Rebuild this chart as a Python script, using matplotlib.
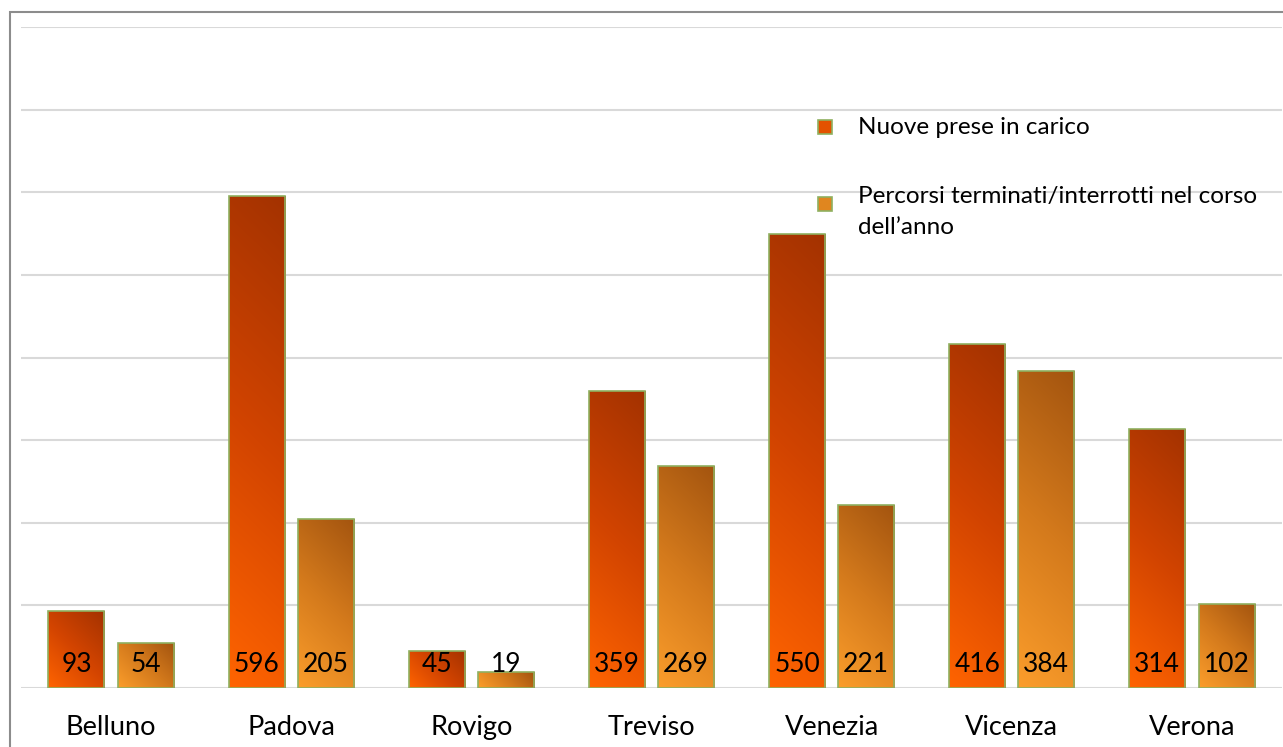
import numpy as np
import matplotlib.pyplot as plt
from matplotlib.colors import LinearSegmentedColormap
from matplotlib.patches import Rectangle

province = ['Belluno', 'Padova', 'Rovigo', 'Treviso', 'Venezia', 'Vicenza', 'Verona']
nuove = [93, 596, 45, 359, 550, 416, 314]
terminati = [54, 205, 19, 269, 221, 384, 102]
serie = ['Nuove prese in carico',
         'Percorsi terminati/interrotti nel corso\ndell\u2019anno']

plt.rcParams['font.family'] = ['Lato', 'DejaVu Sans']

cmap_nuove = LinearSegmentedColormap.from_list('nuove', ['#a33200', '#d24400', '#ff6400'])
cmap_term = LinearSegmentedColormap.from_list('term', ['#a3540f', '#d47a1c', '#fb9d2b'])

fig = plt.figure(figsize=(12.83, 7.47), dpi=100)
# cornice grigia attorno al grafico
fig.patches.append(Rectangle((10 / 1283, -0.05), 1.1, 1 - 12 / 747 + 0.05,
                             transform=fig.transFigure, fill=False,
                             edgecolor='#8c8c8c', linewidth=1.5))

ax = fig.add_axes([21 / 1283, 59 / 747, 1261 / 1283, 661 / 747])
ax.set_xlim(-0.5, 6.5)
ax.set_ylim(0, 800)
ax.set_yticks(range(0, 801, 100))
ax.yaxis.grid(True, color='#d9d9d9', linewidth=1.5)
ax.set_axisbelow(True)
for s in ax.spines.values():
    s.set_visible(False)
ax.tick_params(axis='y', left=False, labelleft=False)
ax.tick_params(axis='x', bottom=False, labelsize=19.5, pad=16)

x = np.arange(len(province))
w = 0.311
off = 0.192


def gradient_bars(xs, vals, cmap):
    bars = ax.bar(xs, vals, width=w, color='none', edgecolor='#8fb060',
                  linewidth=1.2, zorder=3)
    for b, v in zip(bars, vals):
        x0, y0 = b.get_x(), 0
        h_px = max(int(v * 0.826), 2)
        w_px = 56
        i = np.arange(w_px)[None, :]
        j = np.arange(h_px)[:, None]
        t = ((w_px - 1 - i) + j) / (w_px - 1 + h_px - 1)
        im = ax.imshow(t, cmap=cmap, vmin=0, vmax=1, aspect='auto',
                       extent=(x0, x0 + w, y0, v), origin='upper', zorder=2)
        im.set_clip_path(b)
    return bars


b1 = gradient_bars(x - off, nuove, cmap_nuove)
b2 = gradient_bars(x + off, terminati, cmap_term)

for xi, v in zip(x - off, nuove):
    ax.text(xi, 28, str(v), ha='center', va='center', fontsize=19, zorder=4)
for xi, v in zip(x + off, terminati):
    ax.text(xi, 28, str(v), ha='center', va='center', fontsize=19, zorder=4)

ax.set_xticks(x)
ax.set_xticklabels(province)

# legenda a destra
fig.patches.append(Rectangle((818 / 1283, 1 - 134 / 747), 14 / 1283, 14 / 747,
                             transform=fig.transFigure, facecolor='#e35200',
                             edgecolor='#8fb060', linewidth=1.2))
fig.patches.append(Rectangle((818 / 1283, 1 - 211 / 747), 14 / 1283, 14 / 747,
                             transform=fig.transFigure, facecolor='#e0861f',
                             edgecolor='#8fb060', linewidth=1.2))
fig.text(858 / 1283, 1 - 128 / 747, serie[0], fontsize=17.5, va='center')
fig.text(858 / 1283, 1 - 212 / 747, serie[1], fontsize=17.5, va='center',
         linespacing=1.55)

fig.savefig('out.png', dpi=100)
